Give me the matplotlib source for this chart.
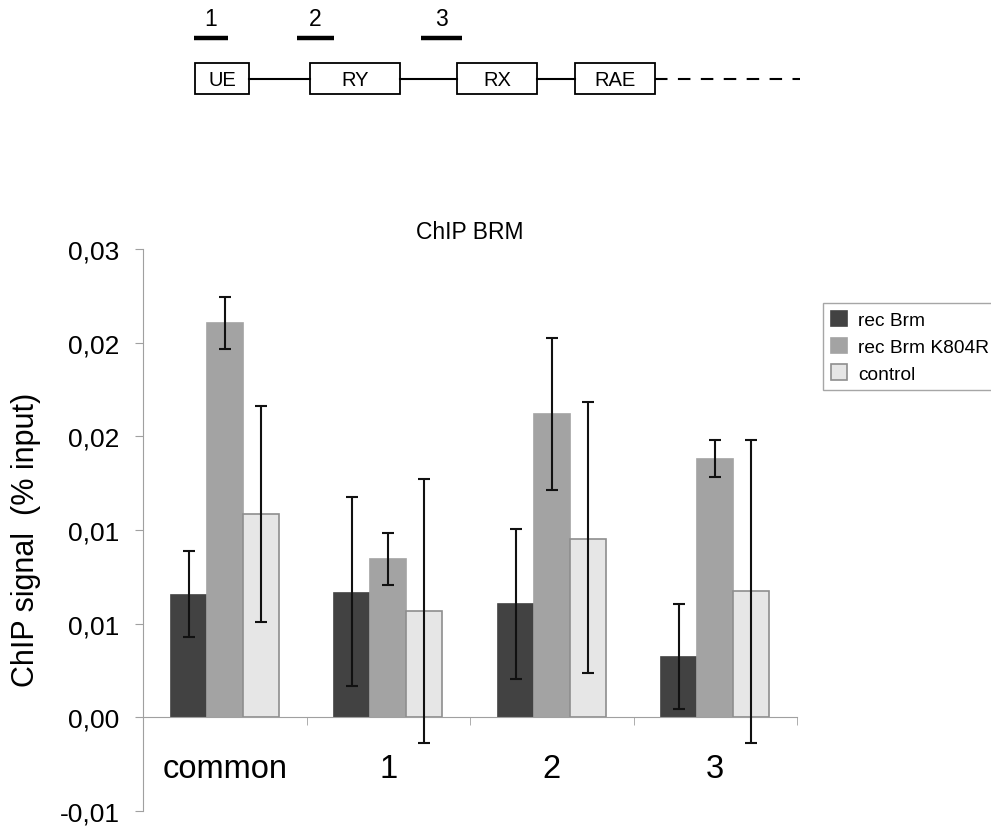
import matplotlib.pyplot as plt
from matplotlib.patches import Rectangle
import numpy as np

plt.rcParams['font.family'] = ['Liberation Sans', 'DejaVu Sans']

categories = ['common', '1', '2', '3']
series = ['rec Brm', 'rec Brm K804R', 'control']

# bar heights (% input)
rec_brm = [0.00651, 0.00664, 0.00607, 0.00321]
rec_brm_k804r = [0.02106, 0.00846, 0.01620, 0.01380]
control = [0.01085, 0.00568, 0.00953, 0.00674]

# error bar ends (upper, lower)
rec_brm_hi = [0.00886, 0.01174, 0.01003, 0.00607]
rec_brm_lo = [0.00427, 0.00166, 0.00207, 0.00042]
k804r_hi = [0.02242, 0.00982, 0.02023, 0.01483]
k804r_lo = [0.01964, 0.00705, 0.01216, 0.01282]
control_hi = [0.01662, 0.01270, 0.01682, 0.01483]
control_lo = [0.00511, -0.00136, 0.00236, -0.00136]

yticks = [-0.005, 0, 0.005, 0.01, 0.015, 0.02, 0.025]
ytick_labels = ['-0,01', '0,00', '0,01', '0,01', '0,02', '0,02', '0,03']

# gene schematic
primers = ['1', '2', '3']
elements = ['UE', 'RY', 'RX', 'RAE']

fig = plt.figure(figsize=(9.91, 8.29), dpi=100)

# ---- schematic on top (pixel-like coords) ----
axd = fig.add_axes([0, 1 - 110 / 829, 1, 110 / 829])
axd.set_xlim(0, 991)
axd.set_ylim(110, 0)
axd.axis('off')

primer_span = [(194, 228), (297, 334), (421, 462)]
for name, (a, b) in zip(primers, primer_span):
    axd.plot([a, b], [39, 39], color='black', lw=3.2, solid_capstyle='butt')
    axd.text((a + b) / 2, 20, name, ha='center', va='center', fontsize=16.5)

box_span = [(195, 249), (310, 400), (457, 537), (575, 655)]
for name, (a, b) in zip(elements, box_span):
    axd.add_patch(Rectangle((a, 64), b - a, 31, fill=False, ec='black', lw=1.3))
    axd.text((a + b) / 2, 80, name, ha='center', va='center', fontsize=14.5)
for (a0, b0), (a1, b1) in zip(box_span[:-1], box_span[1:]):
    axd.plot([b0, a1], [79.5, 79.5], color='black', lw=1.5)
axd.plot([box_span[-1][1], 800], [79.5, 79.5], color='black', lw=1.5,
         dashes=(6, 5))

# ---- bar chart ----
ax = fig.add_axes([143 / 991, 1 - 812 / 829, 654 / 991, 562 / 829])
x = np.arange(len(categories))
w = 0.22
cols = ['#424242', '#a3a3a3', '#e6e6e6']
edges = ['#424242', '#a3a3a3', '#8e8e8e']
vals = [rec_brm, rec_brm_k804r, control]
his = [rec_brm_hi, k804r_hi, control_hi]
los = [rec_brm_lo, k804r_lo, control_lo]

for i in range(3):
    v = np.array(vals[i])
    err = [v - np.array(los[i]), np.array(his[i]) - v]
    ax.bar(x + (i - 1) * w, v, w, color=cols[i], edgecolor=edges[i], lw=1.2,
           label=series[i], zorder=2)
    ax.errorbar(x + (i - 1) * w, v, yerr=err, fmt='none', ecolor='#111111',
                elinewidth=1.5, capsize=4, capthick=1.5, zorder=3)

ax.set_xlim(-0.5, 3.5)
ax.set_ylim(-0.005, 0.025)
ax.set_yticks(yticks)
ax.set_yticklabels(ytick_labels)
ax.set_xticks(x)
ax.set_xticklabels(categories)
ax.set_xticks([0.5, 1.5, 2.5, 3.5], minor=True)
ax.tick_params(axis='x', which='major', length=0, pad=26, labelsize=23.5)
ax.tick_params(axis='x', which='minor', length=6, direction='out', color='#a0a0a0')
ax.tick_params(axis='y', length=6, color='#a0a0a0', pad=11, labelsize=19)

for s in ['top', 'right']:
    ax.spines[s].set_visible(False)
ax.spines['bottom'].set_position(('data', 0))
ax.spines['bottom'].set_color('#a0a0a0')
ax.spines['left'].set_color('#a0a0a0')
ax.spines['left'].set_bounds(-0.005, 0.025)

ax.set_ylabel('ChIP signal  (% input)', fontsize=22)
ax.yaxis.set_label_coords(-102 / 654, 0.484)
ax.set_title('ChIP BRM', fontsize=16.5, pad=8)

leg = fig.legend(loc='upper left', bbox_to_anchor=(823 / 991, 1 - 304 / 829),
                 fontsize=13.8, frameon=True, fancybox=False, edgecolor='#909090',
                 handlelength=0.85, handleheight=0.85, handletextpad=0.58,
                 borderpad=0.4, labelspacing=0.45, borderaxespad=0)
leg.get_frame().set_linewidth(1.0)

fig.savefig('out.png', dpi=100)
